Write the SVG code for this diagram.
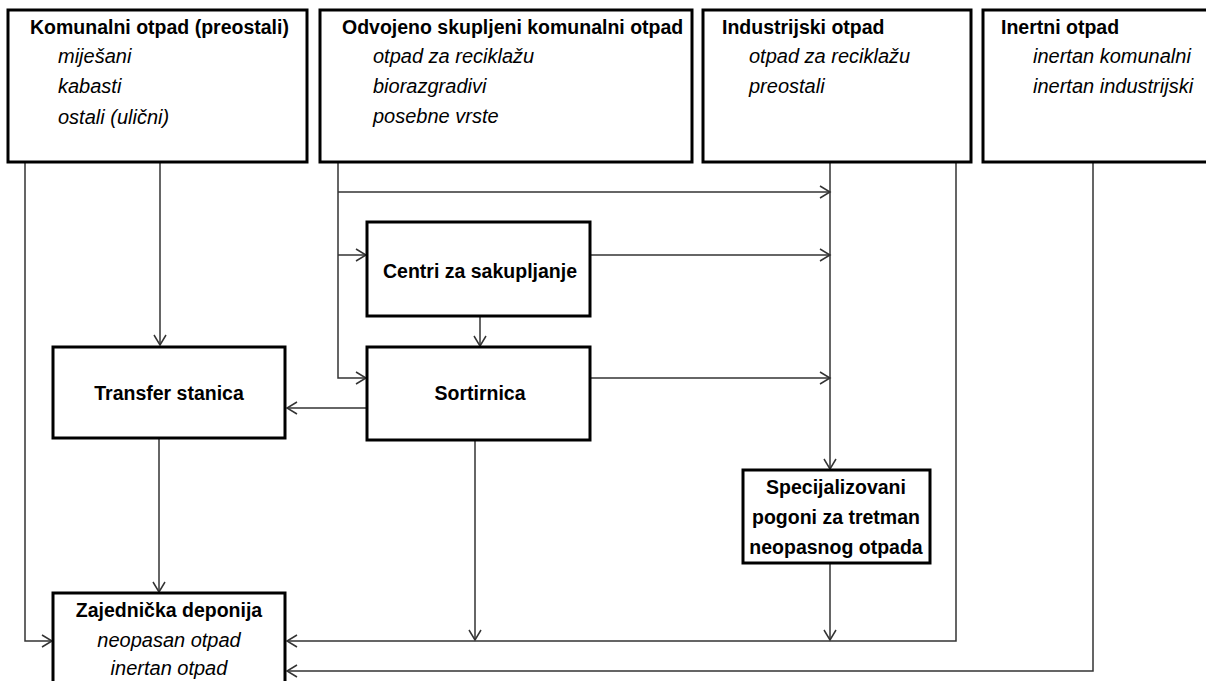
<svg xmlns="http://www.w3.org/2000/svg" width="1206" height="681" viewBox="0 0 1206 681">
<style>
.box{fill:#fff;stroke:#000;stroke-width:3}
.t{font-family:"Liberation Sans",Arial,sans-serif;font-size:19.5px;font-weight:bold;fill:#000}
.i{font-family:"Liberation Sans",Arial,sans-serif;font-size:20px;font-style:italic;fill:#000}
.c{text-anchor:middle}
.con{fill:none;stroke:#333;stroke-width:1.5}
</style>
<defs>
<marker id="ah" markerUnits="userSpaceOnUse" markerWidth="14" markerHeight="16" refX="11" refY="7" orient="auto">
<path d="M1,1 L11,7 L1,13" fill="none" stroke="#333" stroke-width="1.5"/>
</marker>
</defs>
<rect width="1206" height="681" fill="#fff"/>
<g id="connectors" class="con">
<path d="M25,162 V641 H52" marker-end="url(#ah)"/>
<path d="M160,162 V345" marker-end="url(#ah)"/>
<path d="M338,162 V378 H366" marker-end="url(#ah)"/>
<path d="M338,192 H830" marker-end="url(#ah)"/>
<path d="M338,255 H366" marker-end="url(#ah)"/>
<path d="M590,255 H830" marker-end="url(#ah)"/>
<path d="M480,316 V346" marker-end="url(#ah)"/>
<path d="M590,378 H830" marker-end="url(#ah)"/>
<path d="M367,408 H287" marker-end="url(#ah)"/>
<path d="M475,440 V640" marker-end="url(#ah)"/>
<path d="M830,162 V469" marker-end="url(#ah)"/>
<path d="M830,563 V640" marker-end="url(#ah)"/>
<path d="M956,162 V641 H287" marker-end="url(#ah)"/>
<path d="M1093,162 V671 H287" marker-end="url(#ah)"/>
<path d="M159,438 V592" marker-end="url(#ah)"/>
</g>
<g id="komunalni">
<rect class="box" x="8" y="10" width="299" height="152"/>
<text class="t" x="30" y="34">Komunalni otpad (preostali)</text>
<text class="i" x="58" y="63">miješani</text>
<text class="i" x="58" y="93">kabasti</text>
<text class="i" x="58" y="124">ostali (ulični)</text>
</g>
<g id="odvojeno">
<rect class="box" x="320" y="10" width="372" height="152"/>
<text class="t" x="342" y="34">Odvojeno skupljeni komunalni otpad</text>
<text class="i" x="373" y="63">otpad za reciklažu</text>
<text class="i" x="373" y="93">biorazgradivi</text>
<text class="i" x="373" y="123">posebne vrste</text>
</g>
<g id="industrijski">
<rect class="box" x="703" y="10" width="268" height="152"/>
<text class="t" x="722" y="34">Industrijski otpad</text>
<text class="i" x="749" y="63">otpad za reciklažu</text>
<text class="i" x="749" y="93">preostali</text>
</g>
<g id="inertni">
<rect class="box" x="983" y="10" width="240" height="152"/>
<text class="t" x="1001" y="34">Inertni otpad</text>
<text class="i" x="1033" y="63">inertan komunalni</text>
<text class="i" x="1033" y="93">inertan industrijski</text>
</g>
<g id="centri">
<rect class="box" x="367" y="222" width="223" height="94"/>
<text class="t c" x="480" y="278">Centri za sakupljanje</text>
</g>
<g id="sortirnica">
<rect class="box" x="367" y="347" width="223" height="93"/>
<text class="t c" x="480" y="400">Sortirnica</text>
</g>
<g id="transfer">
<rect class="box" x="53" y="347" width="232" height="91"/>
<text class="t c" x="169" y="400">Transfer stanica</text>
</g>
<g id="specijalizovani">
<rect class="box" x="743" y="470" width="187" height="93"/>
<text class="t c" x="836" y="494">Specijalizovani</text>
<text class="t c" x="836" y="524">pogoni za tretman</text>
<text class="t c" x="836" y="554">neopasnog otpada</text>
</g>
<g id="deponija">
<rect class="box" x="53" y="593" width="232" height="110"/>
<text class="t c" x="169" y="617">Zajednička deponija</text>
<text class="i c" x="169" y="647">neopasan otpad</text>
<text class="i c" x="169" y="675">inertan otpad</text>
</g>
</svg>
